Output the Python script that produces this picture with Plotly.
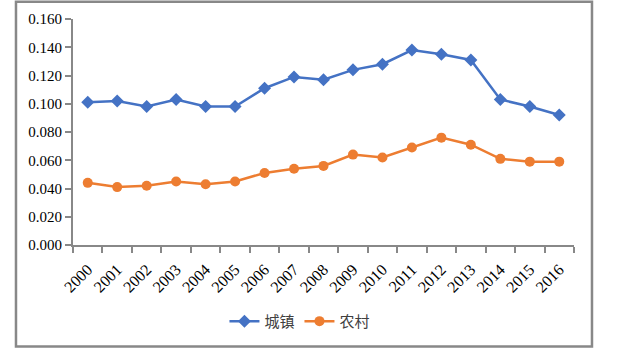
import plotly.graph_objects as go

years = [str(y) for y in range(2000, 2017)]
urban = [0.101, 0.102, 0.098, 0.103, 0.098, 0.098, 0.111, 0.119, 0.117, 0.124,
         0.128, 0.138, 0.135, 0.131, 0.103, 0.098, 0.092]
rural = [0.044, 0.041, 0.042, 0.045, 0.043, 0.045, 0.051, 0.054, 0.056, 0.064,
         0.062, 0.069, 0.076, 0.071, 0.061, 0.059, 0.059]
series_names = ["城镇", "农村"]

fig = go.Figure()
fig.add_trace(go.Scatter(x=years, y=urban, name=series_names[0], mode="lines+markers",
                         line=dict(color="#4472C4", width=2.5),
                         marker=dict(symbol="diamond", size=10, color="#4472C4")))
fig.add_trace(go.Scatter(x=years, y=rural, name=series_names[1], mode="lines+markers",
                         line=dict(color="#ED7D31", width=2.5),
                         marker=dict(symbol="circle", size=10, color="#ED7D31")))

axis_font = dict(family="Liberation Serif", size=15, color="black")
xaxis_font = dict(family="Liberation Serif", size=16, color="black")
fig.update_layout(
    width=621, height=355,
    margin=dict(l=73, r=47, t=19, b=110, autoexpand=False),
    paper_bgcolor="white", plot_bgcolor="white",
    showlegend=True,
    legend=dict(orientation="h", x=0.453, xanchor="center", y=-0.338, yanchor="middle",
                font=dict(family="Noto Sans CJK SC", size=15, color="#404040"),
                itemwidth=30, tracegroupgap=0, bgcolor="rgba(0,0,0,0)"),
    xaxis=dict(type="category", range=[-0.5, len(years) - 0.5], showline=True,
               linecolor="#888", linewidth=2,
               ticks="outside", tickson="boundaries", ticklen=6, tickcolor="#888",
               tickwidth=2, tickangle=-45, tickfont=xaxis_font, showgrid=False,
               zeroline=False, automargin=False, ticklabelstandoff=7),
    yaxis=dict(range=[0, 0.16], dtick=0.02, tickformat=".3f", showline=True,
               linecolor="#888", linewidth=2, ticks="outside", ticklen=6,
               tickcolor="#888", tickwidth=2, tickfont=axis_font, showgrid=False,
               zeroline=False, automargin=False),
    shapes=[dict(type="rect", xref="paper", yref="paper",
                 x0=-0.1138, x1=1.0359, y0=-0.4487, y1=1.0765,
                 line=dict(color="#888", width=2.5), fillcolor="rgba(0,0,0,0)",
                 layer="below")],
)

fig.write_html("out.html", config={"displayModeBar": False},
               post_script="document.body.style.margin='0px';document.body.style.overflow='hidden';")
